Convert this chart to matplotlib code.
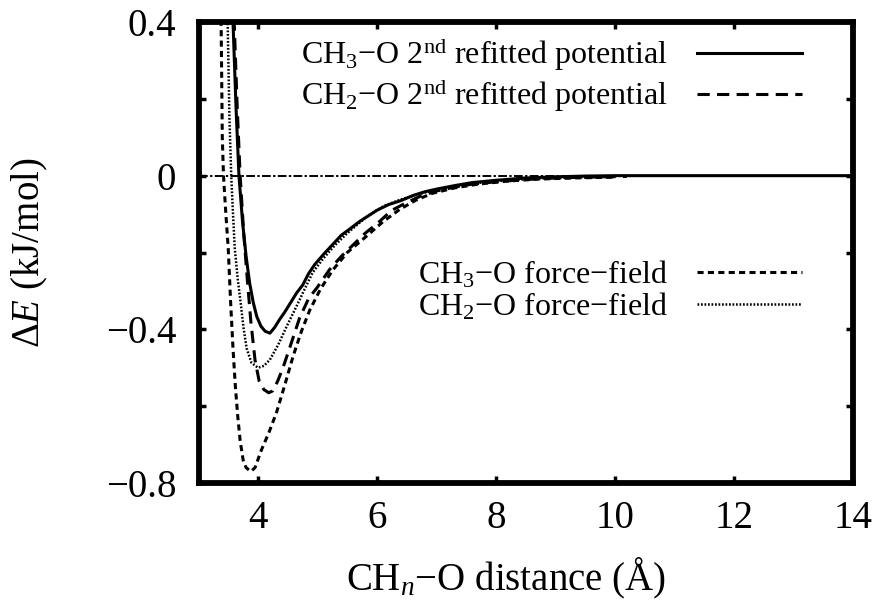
import matplotlib
matplotlib.use("Agg")
import matplotlib.pyplot as plt
from matplotlib.lines import Line2D

plt.rcParams['font.family'] = ['Liberation Serif', 'DejaVu Serif']
plt.rcParams['mathtext.fontset'] = 'custom'
plt.rcParams['mathtext.rm'] = 'Liberation Serif'
plt.rcParams['mathtext.it'] = 'Liberation Serif:italic'
plt.rcParams['mathtext.bf'] = 'Liberation Serif:bold'

# ---- data ----
ch3_fit_x = [3.50, 3.58, 3.63, 3.68, 3.74, 3.80, 3.86, 3.92, 3.98, 4.05, 4.12, 4.20,
             4.28, 4.36, 4.45, 4.55, 4.65, 4.75, 4.85, 4.95, 5.10, 5.25, 5.40, 5.55,
             5.70, 5.85, 6.00, 6.20, 6.40, 6.60, 6.80, 7.00, 7.30, 7.60, 8.00, 8.50,
             9.00, 9.50, 10.0, 14.0]
ch3_fit_y = [0.80, 0.40, 0.18, 0.00, -0.12, -0.21, -0.28, -0.33, -0.367, -0.392, -0.405, -0.410,
             -0.395, -0.375, -0.355, -0.33, -0.305, -0.285, -0.255, -0.232, -0.205, -0.18, -0.155, -0.138,
             -0.12, -0.105, -0.09, -0.075, -0.065, -0.052, -0.042, -0.035, -0.026, -0.018, -0.012, -0.006,
             -0.003, -0.001, 0.0, 0.0]

ch2_fit_x = [3.52, 3.60, 3.65, 3.70, 3.76, 3.82, 3.88, 3.95, 4.02, 4.10, 4.18, 4.25,
             4.33, 4.42, 4.55, 4.70, 4.85, 5.00, 5.20, 5.40, 5.60, 5.80, 6.00, 6.25,
             6.50, 6.75, 7.00, 7.30, 7.60, 8.00, 8.50, 9.00, 9.50, 10.2]
ch2_fit_y = [0.80, 0.40, 0.18, 0.00, -0.15, -0.27, -0.38, -0.48, -0.535, -0.557, -0.565, -0.56,
             -0.535, -0.50, -0.44, -0.37, -0.32, -0.29, -0.245, -0.21, -0.18, -0.15, -0.125, -0.09,
             -0.07, -0.052, -0.04, -0.03, -0.022, -0.016, -0.01, -0.006, -0.004, -0.002]

ch3_ff_x = [3.36, 3.38, 3.40, 3.42, 3.46, 3.50, 3.54, 3.58, 3.62, 3.66, 3.70, 3.75,
            3.80, 3.88, 3.95, 4.06, 4.18, 4.31, 4.45, 4.59, 4.73, 4.87, 5.05, 5.26,
            5.50, 5.82, 6.10, 6.38, 6.65, 6.93, 7.30, 7.70, 8.20, 8.70, 9.30, 10.0]
ch3_ff_y = [0.80, 0.40, 0.10, 0.00, -0.10, -0.19, -0.33, -0.45, -0.55, -0.627, -0.69, -0.74,
            -0.76, -0.77, -0.76, -0.713, -0.67, -0.617, -0.545, -0.47, -0.405, -0.35, -0.295, -0.245,
            -0.20, -0.158, -0.12, -0.088, -0.064, -0.046, -0.032, -0.022, -0.014, -0.009, -0.006, -0.004]

ch2_ff_x = [3.46, 3.49, 3.52, 3.55, 3.58, 3.61, 3.66, 3.70, 3.76, 3.81, 3.89, 4.00,
            4.10, 4.20, 4.34, 4.48, 4.60, 4.70, 4.80, 4.92, 5.10, 5.30, 5.50, 5.80,
            6.10, 6.40, 6.70, 7.00, 7.40, 7.80, 8.30, 8.80, 9.40, 10.0]
ch2_ff_y = [0.80, 0.40, 0.15, 0.00, -0.10, -0.19, -0.27, -0.32, -0.40, -0.45, -0.487, -0.50,
            -0.495, -0.479, -0.44, -0.393, -0.355, -0.323, -0.29, -0.252, -0.215, -0.18, -0.15, -0.11,
            -0.08, -0.062, -0.048, -0.036, -0.025, -0.017, -0.011, -0.007, -0.004, -0.003]

labels_fit = ["CH$_3$\u2212O 2$^{\\rm nd}$ refitted potential",
              "CH$_2$\u2212O 2$^{\\rm nd}$ refitted potential"]
labels_ff = ["CH$_3$\u2212O force\u2212field",
             "CH$_2$\u2212O force\u2212field"]

x_ticks = [4, 6, 8, 10, 12, 14]
x_ticklabels = ["4", "6", "8", "10", "12", "14"]
y_ticks = [-0.8, -0.4, 0.0, 0.4]
y_ticklabels = ["\u22120.8", "\u22120.4", "0", "0.4"]
y_minor = [-0.6, -0.2, 0.2]

x_label = "CH$_n$\u2212O distance (\u00c5)"
y_label = "\u0394$E$ (kJ/mol)"

# ---- styles ----
LW = 2.2
st_solid = dict(color='k', lw=LW, ls='-')
st_long = dict(color='k', lw=LW, ls=(0, (4.0, 2.4)))
st_short = dict(color='k', lw=LW, ls=(0, (2.0, 1.4)))
st_dot = dict(color='k', lw=1.8, ls=(0, (0.7, 0.7)))

fig = plt.figure(figsize=(8.8, 6.1), dpi=100)
ax = fig.add_axes([198.5 / 880, 1 - 483 / 610, (853 - 198.5) / 880, (483 - 22) / 610])

ax.axhline(0, color='k', lw=1.4, ls=(0, (4.5, 1.2, 1.2, 1.2)), zorder=1)
ax.plot(ch3_ff_x, ch3_ff_y, **st_short, zorder=2)
ax.plot(ch2_ff_x, ch2_ff_y, **st_dot, zorder=2)
ax.plot(ch2_fit_x, ch2_fit_y, **st_long, zorder=3)
ax.plot(ch3_fit_x, ch3_fit_y, **st_solid, zorder=4)

ax.set_xlim(3, 14)
ax.set_ylim(-0.8, 0.4)
ax.set_xticks(x_ticks)
ax.set_xticklabels(x_ticklabels)
ax.set_yticks(y_ticks)
ax.set_yticklabels(y_ticklabels)
ax.set_yticks(y_minor, minor=True)
ax.tick_params(which='both', direction='in', top=True, right=True,
               length=5, width=2.5, labelsize=28)
ax.tick_params(axis='x', pad=12)
ax.tick_params(axis='y', pad=16)
for s in ax.spines.values():
    s.set_linewidth(4.2)

fig.text(506 / 880, 1 - 578 / 610, x_label, fontsize=28, ha='center', va='center')
fig.text(30 / 880, 1 - 253 / 610, y_label, fontsize=28, ha='center', va='center',
         rotation=90)

h_fit = [Line2D([], [], **st_solid), Line2D([], [], **st_long)]
h_ff = [Line2D([], [], **st_short), Line2D([], [], **st_dot)]
common = dict(frameon=False, markerfirst=False, fontsize=23, handlelength=3.3,
              handletextpad=0.9, borderpad=0, borderaxespad=0, loc='center right',
              bbox_transform=fig.transFigure)
leg1 = ax.legend(h_fit, labels_fit, bbox_to_anchor=(802 / 880, 1 - 74.5 / 610),
                 labelspacing=0.10, **common)
ax.add_artist(leg1)
leg2 = ax.legend(h_ff, labels_ff, bbox_to_anchor=(802 / 880, 1 - 290.5 / 610),
                 labelspacing=0.0, **common)

fig.savefig("out.png", dpi=100)
